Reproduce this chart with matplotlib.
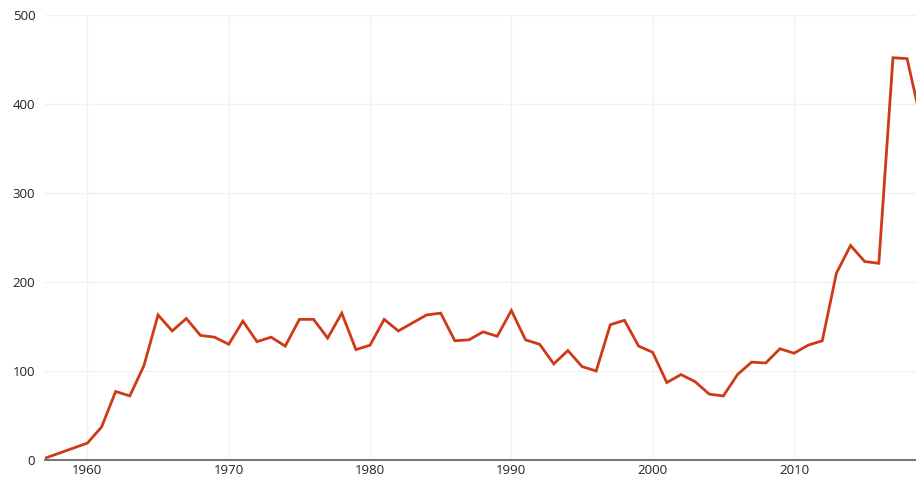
import matplotlib
matplotlib.use("Agg")
import matplotlib.pyplot as plt

years = [1957, 1960, 1961, 1962, 1963, 1964, 1965, 1966, 1967, 1968, 1969,
         1970, 1971, 1972, 1973, 1974, 1975, 1976, 1977, 1978, 1979,
         1980, 1981, 1982, 1983, 1984, 1985, 1986, 1987, 1988, 1989,
         1990, 1991, 1992, 1993, 1994, 1995, 1996, 1997, 1998, 1999,
         2000, 2001, 2002, 2003, 2004, 2005, 2006, 2007, 2008, 2009,
         2010, 2011, 2012, 2013, 2014, 2015, 2016, 2017, 2018, 2019]
values = [2, 19, 37, 77, 72, 106, 163, 145, 159, 140, 138,
          130, 156, 133, 138, 128, 158, 158, 137, 165, 124,
          129, 158, 145, 154, 163, 165, 134, 135, 144, 139,
          168, 135, 130, 108, 123, 105, 100, 152, 157, 128,
          121, 87, 96, 88, 74, 72, 96, 110, 109, 125,
          120, 129, 134, 210, 241, 223, 221, 452, 451, 380]

xticks = [1960, 1970, 1980, 1990, 2000, 2010]
yticks = [0, 100, 200, 300, 400, 500]

plt.rcParams['font.family'] = ['Open Sans', 'DejaVu Sans']

fig = plt.figure(figsize=(9.16, 4.78), dpi=100)
ax = fig.add_axes([45 / 916, 18 / 478, 1 - 45 / 916, 445 / 478])

ax.plot(years, values, color='#cf3a16', linewidth=2, solid_joinstyle='miter')

ax.set_xlim(1957, 2018.63)
ax.set_ylim(0, 500)
ax.set_xticks(xticks)
ax.set_yticks(yticks)
ax.grid(True, color='#f1f1f1', linewidth=1)
ax.set_axisbelow(True)

for side in ['top', 'right', 'left']:
    ax.spines[side].set_visible(False)
ax.spines['bottom'].set_color('#777777')
ax.spines['bottom'].set_linewidth(1.5)
ax.tick_params(length=0, labelsize=9.5, colors='#222222')
ax.tick_params(axis='y', pad=7)
ax.tick_params(axis='x', pad=3)

fig.savefig('out.png', dpi=100)
